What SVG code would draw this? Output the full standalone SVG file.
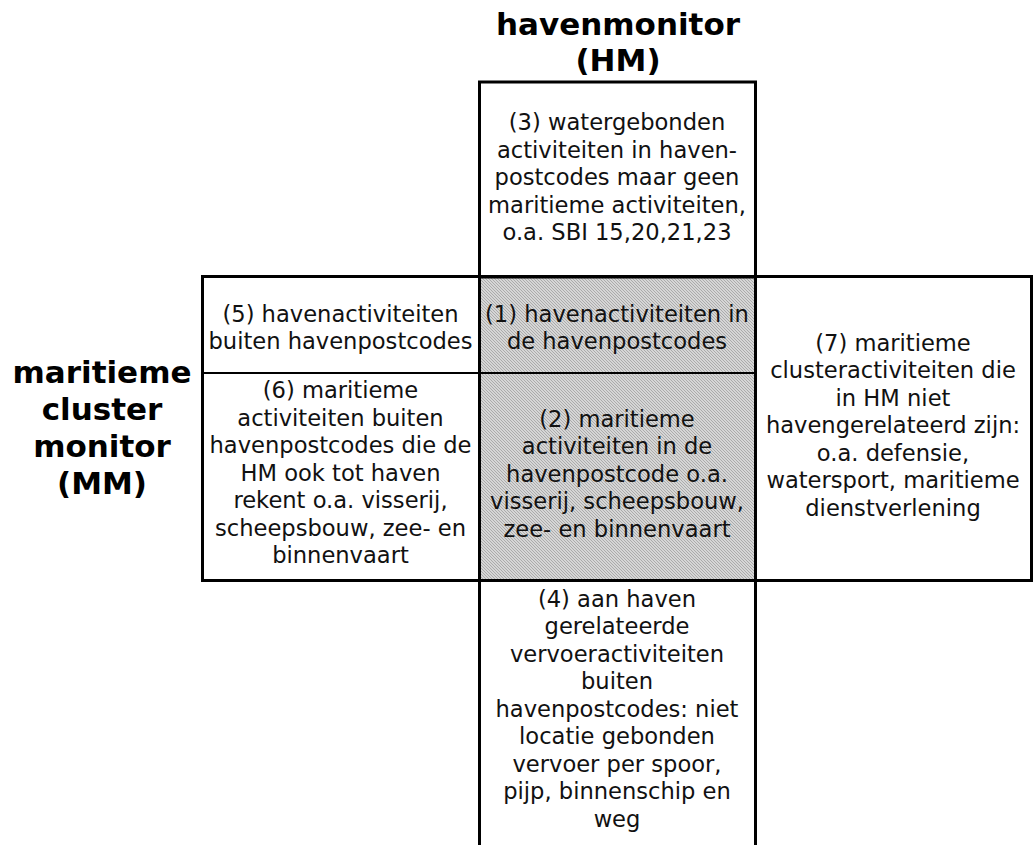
<svg xmlns="http://www.w3.org/2000/svg" width="1034" height="845" viewBox="0 0 1034 845">
<style>
.t{font-family:"DejaVu Sans","Verdana",sans-serif;font-size:22.6px;fill:#111;text-anchor:middle}
.h{font-family:"DejaVu Sans","Verdana",sans-serif;font-size:31px;font-weight:bold;fill:#000;text-anchor:middle}
.thick{stroke:#000;stroke-width:3;fill:none}
.thin{stroke:#000;stroke-width:2;fill:none}
</style>
<defs>
<pattern id="hatch" width="3" height="3" patternUnits="userSpaceOnUse">
<rect width="3" height="3" fill="#d6d6d6"/>
<rect x="0" y="0" width="1" height="1" fill="#ababab"/>
<rect x="1" y="1" width="1" height="1" fill="#ababab"/>
<rect x="2" y="2" width="1" height="1" fill="#ababab"/>
</pattern>
</defs>
<rect width="1034" height="845" fill="#fff"/>
<g id="titles">
<text class="h" x="618" y="35">havenmonitor</text>
<text class="h" x="618" y="71">(HM)</text>
<text class="h" x="102" y="383">maritieme</text>
<text class="h" x="102" y="420">cluster</text>
<text class="h" x="102" y="457">monitor</text>
<text class="h" x="102" y="494">(MM)</text>
</g>
<g id="node1">
<rect x="480" y="277" width="275" height="96" fill="url(#hatch)"/>
<text class="t" x="617" y="322">(1) havenactiviteiten in</text>
<text class="t" x="617" y="349">de havenpostcodes</text>
</g>
<g id="node2">
<rect x="480" y="373" width="275" height="207" fill="url(#hatch)"/>
<text class="t" x="617" y="426.5">(2) maritieme</text>
<text class="t" x="617" y="454">activiteiten in de</text>
<text class="t" x="617" y="481.5">havenpostcode o.a.</text>
<text class="t" x="617" y="509">visserij, scheepsbouw,</text>
<text class="t" x="617" y="536.5">zee- en binnenvaart</text>
</g>
<g id="node3">
<rect x="479.5" y="82" width="276" height="195" class="thick"/>
<text class="t" x="617" y="130">(3) watergebonden</text>
<text class="t" x="617" y="157.5">activiteiten in haven-</text>
<text class="t" x="617" y="185">postcodes maar geen</text>
<text class="t" x="617" y="212.5">maritieme activiteiten,</text>
<text class="t" x="617" y="240">o.a. SBI 15,20,21,23</text>
</g>
<g id="node4">
<path d="M479.5 580.5 V845 M755.5 580.5 V845" class="thick"/>
<text class="t" x="617" y="606.5">(4) aan haven</text>
<text class="t" x="617" y="634">gerelateerde</text>
<text class="t" x="617" y="661.5">vervoeractiviteiten</text>
<text class="t" x="617" y="689">buiten</text>
<text class="t" x="617" y="716.5">havenpostcodes: niet</text>
<text class="t" x="617" y="744">locatie gebonden</text>
<text class="t" x="617" y="771.5">vervoer per spoor,</text>
<text class="t" x="617" y="799">pijp, binnenschip en</text>
<text class="t" x="617" y="826.5">weg</text>
</g>
<g id="node5">
<text class="t" x="340.5" y="322">(5) havenactiviteiten</text>
<text class="t" x="340.5" y="349">buiten havenpostcodes</text>
</g>
<g id="node6">
<text class="t" x="340.5" y="398">(6) maritieme</text>
<text class="t" x="340.5" y="425.5">activiteiten buiten</text>
<text class="t" x="340.5" y="453">havenpostcodes die de</text>
<text class="t" x="340.5" y="480.5">HM ook tot haven</text>
<text class="t" x="340.5" y="508">rekent o.a. visserij,</text>
<text class="t" x="340.5" y="535.5">scheepsbouw, zee- en</text>
<text class="t" x="340.5" y="563">binnenvaart</text>
</g>
<g id="node7">
<text class="t" x="893" y="350.5">(7) maritieme</text>
<text class="t" x="893" y="378">clusteractiviteiten die</text>
<text class="t" x="893" y="405.5">in HM niet</text>
<text class="t" x="893" y="433">havengerelateerd zijn:</text>
<text class="t" x="893" y="460.5">o.a. defensie,</text>
<text class="t" x="893" y="488">watersport, maritieme</text>
<text class="t" x="893" y="515.5">dienstverlening</text>
</g>
<g id="connectors">
<rect x="202.5" y="276.5" width="829" height="304" class="thick"/>
<path d="M479.5 276.5 V580.5 M755.5 276.5 V580.5" class="thick"/>
<path d="M202.5 373 H755.5" class="thin"/>
</g>
</svg>
